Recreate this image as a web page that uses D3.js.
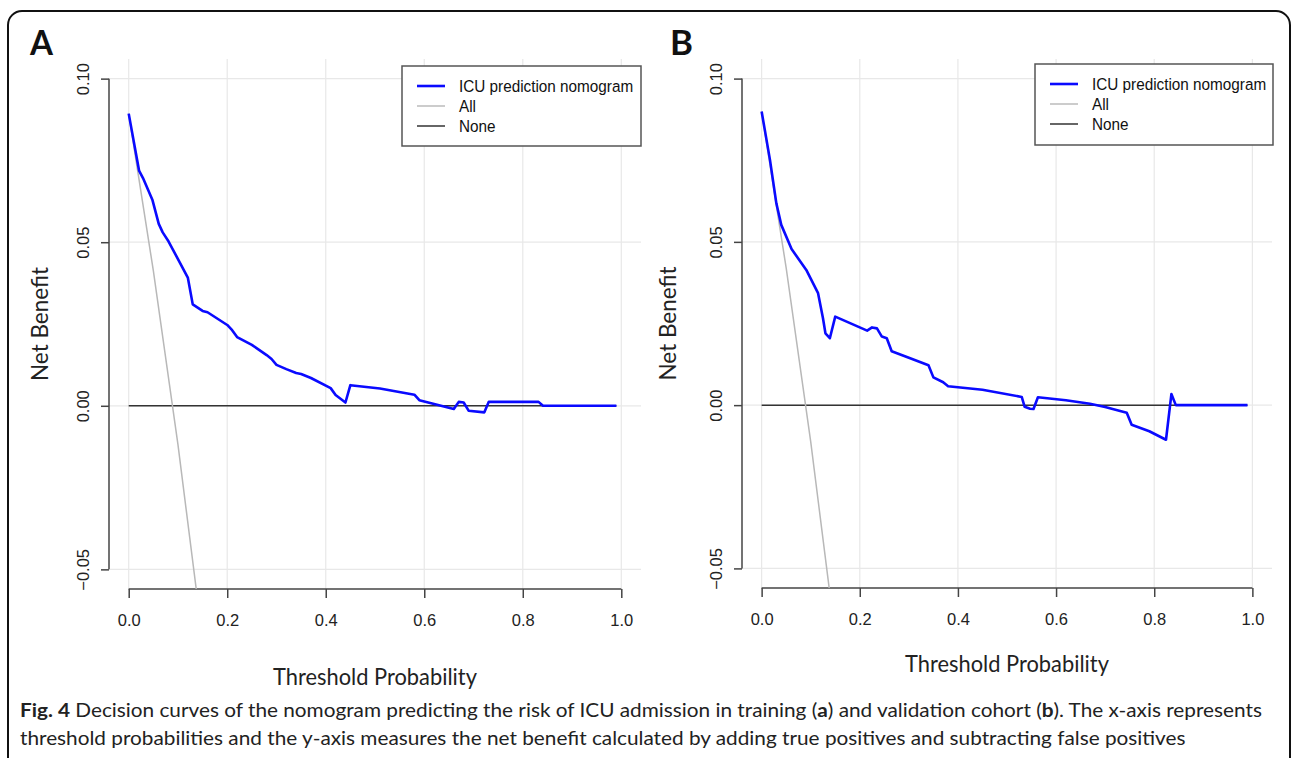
<!DOCTYPE html>
<html>
<head>
<meta charset="utf-8">
<script src="https://cdn.jsdelivr.net/npm/d3@7"></script>
<style>
  body { margin: 0; background: #fff; }
  svg { display: block; }
</style>
</head>
<body>
<svg id="svg" width="1295" height="758"></svg>
<script>
// x and y ticks (same for both panels)
var xTicks = [0, 0.2, 0.4, 0.6, 0.8, 1.0];
var yTicks = [-0.05, 0, 0.05, 0.10];
var legendLabels = ['ICU prediction nomogram', 'All', 'None'];

// panel A - training cohort
var thresholdA = [0, 0.021, 0.029, 0.048, 0.061, 0.069, 0.081, 0.120, 0.130, 0.150, 0.160, 0.200, 0.210, 0.220,
  0.250, 0.280, 0.290, 0.300, 0.320, 0.340, 0.350, 0.370, 0.410, 0.420, 0.440, 0.450, 0.510, 0.580, 0.590,
  0.660, 0.670, 0.680, 0.690, 0.722, 0.731, 0.832, 0.841, 0.990];
var nomogramA = [0.0893, 0.0719, 0.0696, 0.0630, 0.0556, 0.0530, 0.0502, 0.0392, 0.0310, 0.0290, 0.0286, 0.0247, 0.0231, 0.0210,
  0.0186, 0.0155, 0.0143, 0.0125, 0.0112, 0.0100, 0.0097, 0.0085, 0.0054, 0.0033, 0.0010, 0.0063, 0.0053, 0.0034, 0.0017,
  -0.0010, 0.0012, 0.0010, -0.0015, -0.0020, 0.0012, 0.0012, 0.0, 0.0];
var allThresholdA = [0, 0.05, 0.10, 0.15];
var allA = [0.0893, 0.0413, -0.0119, -0.0714];

// panel B - validation cohort
var thresholdB = [0, 0.017, 0.030, 0.040, 0.061, 0.091, 0.115, 0.125, 0.130, 0.139, 0.150, 0.215, 0.225, 0.235,
  0.245, 0.255, 0.265, 0.300, 0.340, 0.350, 0.370, 0.380, 0.450, 0.530, 0.536, 0.547, 0.554, 0.563, 0.620,
  0.669, 0.700, 0.744, 0.754, 0.790, 0.824, 0.835, 0.844, 0.990];
var nomogramB = [0.0899, 0.0751, 0.0618, 0.0552, 0.0478, 0.0414, 0.0343, 0.0266, 0.0220, 0.0205, 0.0271, 0.0228, 0.0238, 0.0235,
  0.0210, 0.0205, 0.0165, 0.0145, 0.0122, 0.0085, 0.0070, 0.0058, 0.0047, 0.0025, -0.0005, -0.0011, -0.0012, 0.0024, 0.0015,
  0.0004, -0.0006, -0.0023, -0.0060, -0.0080, -0.0106, 0.0034, 0.0, 0.0];
var allThresholdB = [0, 0.05, 0.10, 0.15];
var allB = [0.0899, 0.0420, -0.0112, -0.0707];

var panels = [
  { id: 'a', letter: 'A', left: 109, right: 641, top: 59, bottom: 589, letterX: 30, titleY: 677, ylabX: 40,
    legend: { x: 402, y: 66, w: 239, h: 80 },
    t: thresholdA, nb: nomogramA, allT: allThresholdA, all: allA },
  { id: 'b', letter: 'B', left: 742, right: 1272, top: 59, bottom: 588, letterX: 670, titleY: 664, ylabX: 668,
    legend: { x: 1035, y: 64, w: 238, h: 81 },
    t: thresholdB, nb: nomogramB, allT: allThresholdB, all: allB }
];

var svg = d3.select('svg');

// outer frame
svg.append('rect')
  .attr('x', 8).attr('y', 11).attr('width', 1282).attr('height', 800)
  .attr('rx', 14).attr('ry', 14)
  .attr('fill', 'none').attr('stroke', '#111').attr('stroke-width', 2);

// squeeze a text sideways so it spans `target` px (keeps the taller glyphs)
function squeeze(sel, tx, ty, target, rot) {
  var w = sel.node().getComputedTextLength();
  sel.attr('transform', 'translate(' + tx + ',' + ty + ')' + (rot ? ' rotate(' + rot + ')' : '') +
    ' scale(' + (target / w) + ',1)');
}

panels.forEach(function (p) {
  var x = d3.scaleLinear().domain([-0.04, 1.04]).range([p.left, p.right]);
  var y = d3.scaleLinear().domain([-0.056, 0.106]).range([p.bottom, p.top]);
  var g = svg.append('g');

  g.append('defs').append('clipPath').attr('id', 'clip-' + p.id)
    .append('rect')
    .attr('x', p.left).attr('y', p.top)
    .attr('width', p.right - p.left).attr('height', p.bottom - p.top);

  // grid
  g.selectAll('.vgrid').data(xTicks).enter().append('line')
    .attr('x1', function (d) { return x(d); }).attr('x2', function (d) { return x(d); })
    .attr('y1', p.top).attr('y2', p.bottom)
    .attr('stroke', '#e8e8e8').attr('stroke-width', 1.2);
  g.selectAll('.hgrid').data(yTicks).enter().append('line')
    .attr('y1', function (d) { return y(d); }).attr('y2', function (d) { return y(d); })
    .attr('x1', p.left).attr('x2', p.right)
    .attr('stroke', '#e8e8e8').attr('stroke-width', 1.2);

  // x axis
  var xa = g.append('g').attr('transform', 'translate(0,' + p.bottom + ')')
    .call(d3.axisBottom(x).tickValues(xTicks).tickSize(9).tickPadding(16).tickFormat(d3.format('.1f')));
  xa.select('.domain').remove();
  xa.append('line').attr('x1', x(0)).attr('x2', x(1)).attr('stroke', '#444').attr('stroke-width', 1.5);
  xa.selectAll('.tick line').attr('stroke', '#444').attr('stroke-width', 1.5);
  xa.selectAll('.tick text').attr('font-family', 'Liberation Sans, Arial, sans-serif')
    .attr('font-size', 16.5).attr('fill', '#222');

  // y axis
  var ya = g.append('g').attr('transform', 'translate(' + p.left + ',0)')
    .call(d3.axisLeft(y).tickValues(yTicks).tickSize(8).tickFormat(d3.format('.2f')));
  ya.select('.domain').remove();
  ya.append('line').attr('y1', y(-0.05)).attr('y2', y(0.10)).attr('stroke', '#444').attr('stroke-width', 1.5);
  ya.selectAll('.tick line').attr('stroke', '#444').attr('stroke-width', 1.5);
  ya.selectAll('.tick text')
    .attr('x', 0).attr('dy', 0)
    .attr('transform', 'translate(-20,0) rotate(-90)')
    .attr('text-anchor', 'middle')
    .attr('font-family', 'Liberation Sans, Arial, sans-serif')
    .attr('font-size', 16.5).attr('fill', '#222')
    .text(function (d) { return d3.format('.2f')(d).replace('-', '\u2212'); });

  // None line
  g.append('line')
    .attr('x1', x(0)).attr('x2', x(0.99))
    .attr('y1', y(0)).attr('y2', y(0))
    .attr('stroke', '#333').attr('stroke-width', 1.5);

  // All line
  var allPts = p.allT.map(function (t, i) { return [t, p.all[i]]; });
  g.append('path').datum(allPts)
    .attr('clip-path', 'url(#clip-' + p.id + ')')
    .attr('d', d3.line().x(function (d) { return x(d[0]); }).y(function (d) { return y(d[1]); }))
    .attr('fill', 'none').attr('stroke', '#b8b8b8').attr('stroke-width', 1.5);

  // nomogram curve
  var pts = p.t.map(function (t, i) { return [t, p.nb[i]]; });
  g.append('path').datum(pts)
    .attr('d', d3.line().x(function (d) { return x(d[0]); }).y(function (d) { return y(d[1]); }))
    .attr('fill', 'none').attr('stroke', '#0a0aff').attr('stroke-width', 2.6)
    .attr('stroke-linejoin', 'round');

  // legend
  var L = p.legend;
  var lg = g.append('g');
  lg.append('rect').attr('x', L.x).attr('y', L.y).attr('width', L.w).attr('height', L.h)
    .attr('fill', '#fff').attr('stroke', '#555').attr('stroke-width', 1.5);
  var lstyles = [['#0a0aff', 2.6], ['#bbbbbb', 1.5], ['#333', 1.5]];
  legendLabels.forEach(function (lab, i) {
    var ly = L.y + 20 + i * 20;
    lg.append('line').attr('x1', L.x + 15).attr('x2', L.x + 43).attr('y1', ly).attr('y2', ly)
      .attr('stroke', lstyles[i][0]).attr('stroke-width', lstyles[i][1]);
    var lt = lg.append('text').attr('font-family', 'Liberation Sans, Arial, sans-serif').attr('font-size', 17)
      .attr('fill', '#111').text(lab);
    squeeze(lt, L.x + 57, ly + 6, lt.node().getComputedTextLength() * 0.9);
  });

  // titles
  var xt = g.append('text').attr('text-anchor', 'middle').attr('font-family', 'Lato, sans-serif')
    .attr('font-size', 23).attr('fill', '#222').text('Threshold Probability');
  squeeze(xt, (x(0) + x(1)) / 2, p.titleY + 8, 204);
  var yt = g.append('text').attr('text-anchor', 'middle').attr('font-family', 'Lato, sans-serif')
    .attr('font-size', 23).attr('fill', '#222').text('Net Benefit');
  squeeze(yt, p.ylabX + 8, y(0.025), 114, -90);

  var lt2 = g.append('text').attr('font-family', 'Lato, sans-serif').attr('font-weight', 'bold')
    .attr('font-size', 35).attr('fill', '#111').text(p.letter);
  squeeze(lt2, p.letterX, 55, 23);
});

// caption
var cap1 = svg.append('text')
  .attr('font-family', 'Lato, sans-serif').attr('font-size', 18.5).attr('fill', '#222');
cap1.append('tspan').attr('font-weight', 'bold').text('Fig. 4');
cap1.append('tspan').text(' Decision curves of the nomogram predicting the risk of ICU admission in training (');
cap1.append('tspan').attr('font-weight', 'bold').text('a');
cap1.append('tspan').text(') and validation cohort (');
cap1.append('tspan').attr('font-weight', 'bold').text('b');
cap1.append('tspan').text('). The x-axis represents');
var w1 = cap1.node().getComputedTextLength();
cap1.attr('transform', 'translate(20,717) scale(' + (1243 / w1) + ',1)');
var cap2 = svg.append('text')
  .attr('font-family', 'Lato, sans-serif').attr('font-size', 18.5).attr('fill', '#222')
  .text('threshold probabilities and the y-axis measures the net benefit calculated by adding true positives and subtracting false positives');
cap2.attr('transform', 'translate(20,745) scale(' + (1243 / w1) + ',1)');
</script>
</body>
</html>
